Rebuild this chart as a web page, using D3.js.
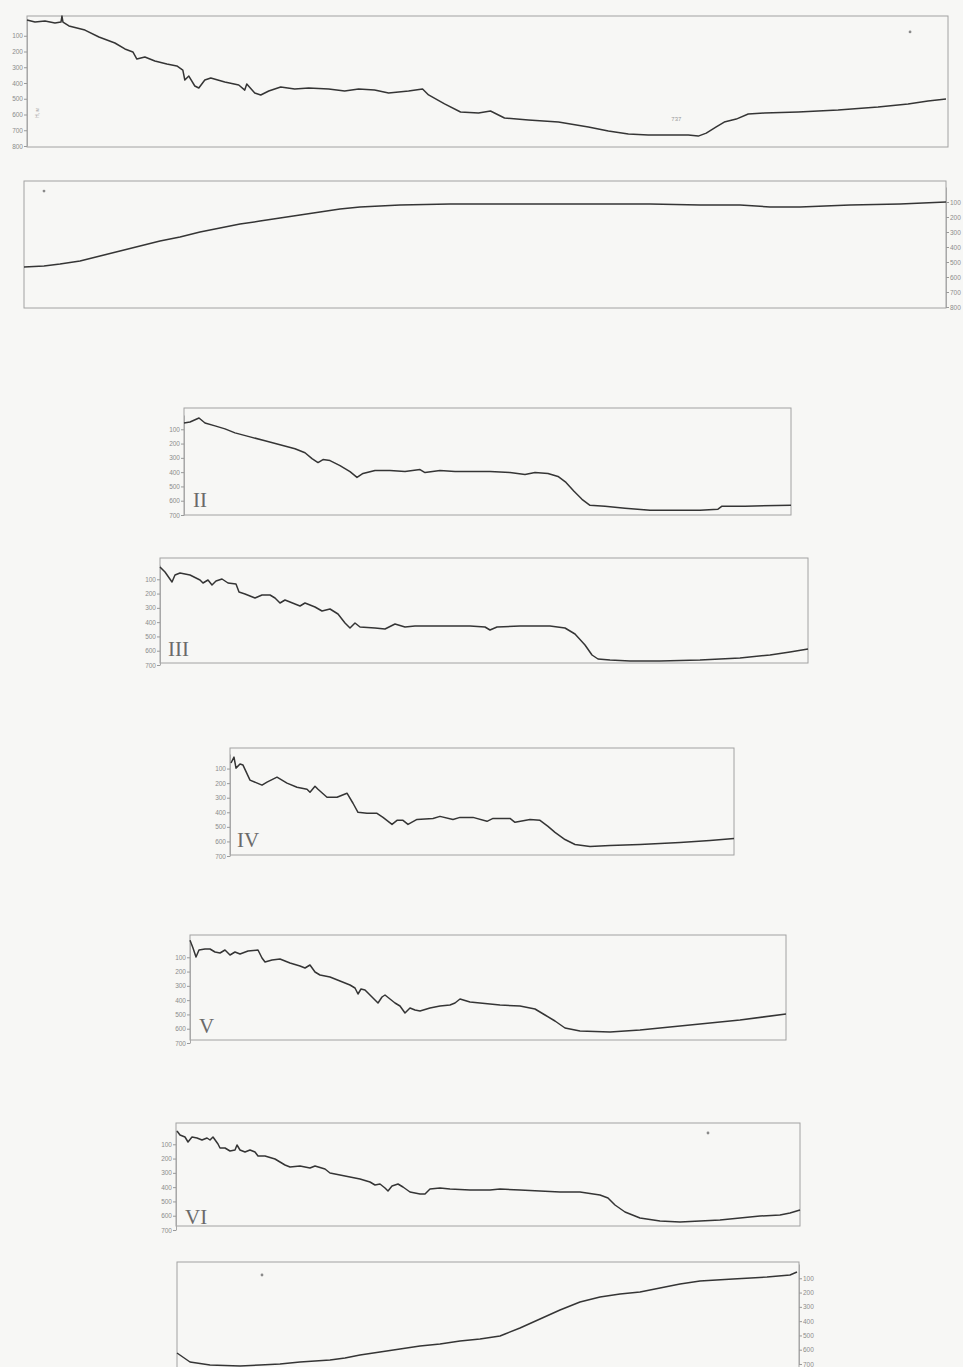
<!DOCTYPE html>
<html>
<head>
<meta charset="utf-8">
<script src="https://cdn.jsdelivr.net/npm/d3@7"></script>
<style>
  body { margin: 0; background: #f7f7f5; }
  svg { display: block; background: #f7f7f5; }
  .frame { fill: none; stroke: #a2a2a2; stroke-width: 1; }
  .profile { fill: none; stroke: #353535; stroke-width: 1.5; stroke-linejoin: round; }
  .axis .tick text { font-family: "Liberation Sans", sans-serif; font-size: 6.5px; fill: #8c8c8c; }
  .axis .tick line { stroke: #9a9a9a; }
  .axis .domain { stroke: #a8a8a8; }
  .numeral { font-family: "Liberation Serif", serif; font-size: 21px; fill: #6a6a6a; }
  .note { font-family: "Liberation Sans", sans-serif; font-size: 6px; fill: #9a9a9a; }
</style>
</head>
<body>
<svg width="963" height="1367"></svg>
<script>
// profiles: [distance, depth]
var profile1 = [[0,0],[4,13],[9,6],[14,19],[17,13],[17.5,-25],[18,13],[21,38],[29,64],[36,108],[44,146],[49,184],[53,203],[55,248],[59,235],[64,260],[70,279],[75,292],[78,318],[79,381],[81,356],[84,419],[86,432],[89,381],[92,368],[99,394],[106,413],[109,445],[110,406],[114,464],[117,476],[121,451],[127,425],[134,438],[141,432],[151,438],[159,451],[166,438],[174,445],[181,464],[191,451],[198,438],[201,476],[209,533],[217,584],[226,591],[232,578],[239,622],[251,635],[266,648],[281,679],[291,705],[301,724],[311,730],[321,730],[331,730],[336,737],[340,718],[345,679],[349,648],[355,629],[361,597],[369,591],[386,584],[406,572],[426,553],[441,533],[451,514],[460,502]];

var profile2 = [[0,534],[10,527],[18,514],[28,494],[38,460],[48,427],[58,394],[68,360],[78,334],[88,300],[98,274],[108,247],[118,227],[128,207],[138,187],[148,167],[158,147],[168,133],[188,120],[213,113],[238,113],[263,113],[288,113],[313,113],[338,120],[358,120],[373,133],[388,133],[413,120],[438,113],[461,100]];

var profileII = [[0,56],[3,49],[7.5,21],[10.5,56],[15.5,76],[20.5,97],[25.5,125],[33,153],[40.5,180],[48,208],[55.5,236],[60.5,264],[64,305],[67,333],[69.5,312],[73,319],[78,354],[83,396],[86.5,437],[89.5,409],[95.5,389],[103,389],[110.5,396],[118,382],[120.5,403],[128,389],[135.5,396],[143,396],[153,396],[163,403],[170.5,416],[175.5,403],[182,409],[187,430],[191,472],[195,534],[199,590],[203,632],[210.5,638],[220.5,652],[233,666],[248,666],[258,666],[267,659],[269,638],[280.5,638],[303.5,632]];

var profileIII = [[0,14],[2.5,49],[6,119],[7.5,70],[10,56],[15,70],[20,105],[21.5,126],[24,105],[26,140],[28,112],[31,98],[34,126],[38,133],[39.5,189],[42.5,203],[47.5,231],[51,210],[55,210],[57.5,231],[60,266],[62.5,245],[65,259],[70,287],[72.5,266],[77.5,294],[81,322],[85,308],[89,343],[92.5,406],[95,441],[97.5,406],[100,434],[107.5,441],[112.5,448],[117.5,413],[122.5,434],[127.5,427],[135,427],[145,427],[155,427],[162.5,434],[165,455],[168.5,434],[180,427],[195,427],[202.5,441],[207.5,483],[212.5,560],[216,630],[219,658],[225,665],[235,672],[250,672],[270,665],[290,651],[305,630],[315,609],[324,588]];

var profileIV = [[0.5,62],[2,21],[3,97],[5,69],[6.5,76],[10,179],[16,214],[18.5,193],[23.5,159],[28.5,200],[33.5,228],[38.5,242],[40,262],[42.5,221],[44,242],[48.5,297],[53.5,297],[58.5,269],[61.5,338],[64,400],[68.5,407],[73.5,407],[76.5,435],[81,483],[83.5,455],[86.5,455],[89,483],[93.5,449],[101.5,442],[105,428],[111.5,449],[115,435],[121.5,435],[128.5,462],[131.5,442],[140,442],[142.5,469],[150,449],[155,455],[159,497],[162.5,538],[167.5,587],[172.5,621],[180,635],[190,628],[205,621],[225,607],[240,593],[252,580]];

var profileV = [[0,-20],[1.5,35],[3,98],[4.5,49],[7.5,42],[10,42],[12.5,63],[15,70],[17.5,49],[20,84],[22.5,63],[25,77],[29,56],[34,49],[36,105],[37.5,133],[41,119],[45,112],[50,140],[55,161],[57.5,175],[60,154],[62.5,203],[65,224],[70,238],[75,266],[80,294],[82.5,315],[84,357],[85.5,322],[87.5,329],[90,364],[92.5,399],[94,420],[96,378],[97.5,364],[100,392],[102.5,420],[105,441],[107.5,490],[110,455],[112.5,469],[115,476],[120,455],[125,441],[130,434],[132.5,420],[135,392],[140,413],[145,420],[155,434],[165,441],[172.5,462],[177.5,504],[182.5,546],[187.5,595],[195,616],[210,623],[225,609],[240,588],[255,567],[275,539],[298,497]];

var profileVI = [[0.5,7],[2,35],[4.5,49],[6,84],[8,49],[10.5,56],[13,70],[15.5,56],[17,70],[18.5,49],[21,98],[22,126],[24.5,126],[27,147],[29.5,140],[30.5,105],[32,140],[34.5,154],[37,140],[39.5,154],[41,182],[44.5,182],[49.5,203],[52,224],[54.5,245],[57,259],[62,252],[67,266],[69.5,252],[74.5,273],[77,301],[82,315],[87,329],[92,343],[97,364],[99.5,385],[102,378],[104.5,406],[106,427],[108,392],[111,378],[113.5,399],[117,434],[122,448],[124.5,448],[127,413],[132,406],[137,413],[147,420],[157,420],[162,413],[172,420],[182,427],[192,434],[202,434],[212,455],[216,476],[219.5,525],[224.5,574],[232,616],[242,637],[252,644],[262,637],[272,630],[282,616],[292,602],[302,595],[307,581],[312,560]];

var profile8 = [[0,623],[6.5,686],[16.5,707],[31.5,714],[41.5,707],[51.5,700],[61.5,686],[76.5,672],[84,658],[91.5,637],[101.5,616],[111.5,595],[121.5,574],[131.5,560],[141.5,539],[151.5,525],[161.5,504],[164,490],[171.5,448],[181.5,385],[191.5,322],[201.5,266],[211.5,231],[221.5,210],[231.5,196],[241.5,168],[251.5,140],[261.5,119],[278,105],[295,91],[306.5,77],[310,56]];

var ticks800 = [100, 200, 300, 400, 500, 600, 700, 800];
var ticks700 = [100, 200, 300, 400, 500, 600, 700];

// roman labels and small marks
var numerals = ["II", "III", "IV", "V", "VI"];

var panels = [
  {data: profile1, len: 461, left: 27, right: 948, top: 16, bottom: 147, y0: 20, y1: 146, max: 800, ticks: ticks800, side: "left", star: [442, 76], note: [322.5, 641, "737"]},
  {data: profile2, len: 461, left: 24, right: 946, top: 181, bottom: 308, y0: 187, y1: 307, max: 800, ticks: ticks800, side: "right", star: [10, 27]},
  {data: profileII, len: 303.5, left: 184, right: 791, top: 408, bottom: 515, y0: 415, y1: 515, max: 700, ticks: ticks700, side: "left", label: numerals[0], lx: 193, ly: 507},
  {data: profileIII, len: 324, left: 160, right: 808, top: 558, bottom: 663, y0: 565, y1: 665, max: 700, ticks: ticks700, side: "left", label: numerals[1], lx: 168, ly: 656},
  {data: profileIV, len: 252, left: 230, right: 734, top: 748, bottom: 855, y0: 754, y1: 856, max: 700, ticks: ticks700, side: "left", label: numerals[2], lx: 237, ly: 847},
  {data: profileV, len: 298, left: 190, right: 786, top: 935, bottom: 1040, y0: 943, y1: 1043, max: 700, ticks: ticks700, side: "left", label: numerals[3], lx: 199, ly: 1033},
  {data: profileVI, len: 312, left: 176, right: 800, top: 1123, bottom: 1226, y0: 1130, y1: 1230, max: 700, ticks: ticks700, side: "left", label: numerals[4], lx: 185, ly: 1224, star: [266, 21]},
  {data: profile8, len: 311, left: 177, right: 799, top: 1262, bottom: 1380, y0: 1264, y1: 1364, max: 700, ticks: ticks700, side: "right", star: [42.5, 77]}
];

var svg = d3.select("svg");

panels.forEach(function(p) {
  var g = svg.append("g");

  var x = d3.scaleLinear()
    .domain([0, p.len])
    .range([p.left, p.right]);

  var y = d3.scaleLinear()
    .domain([0, p.max])
    .range([p.y0, p.y1]);

  g.append("rect")
    .attr("class", "frame")
    .attr("x", p.left)
    .attr("y", p.top)
    .attr("width", p.right - p.left)
    .attr("height", p.bottom - p.top);

  var axis = p.side == "left" ? d3.axisLeft(y) : d3.axisRight(y);
  g.append("g")
    .attr("class", "axis")
    .attr("transform", "translate(" + (p.side == "left" ? p.left : p.right) + ",0)")
    .call(axis.tickValues(p.ticks).tickSize(3).tickSizeOuter(0).tickPadding(1));

  var line = d3.line()
    .x(function(d) { return x(d[0]); })
    .y(function(d) { return y(d[1]); });

  g.append("path")
    .datum(p.data)
    .attr("class", "profile")
    .attr("d", line);

  if (p.label) {
    g.append("text")
      .attr("class", "numeral")
      .attr("x", p.lx)
      .attr("y", p.ly)
      .text(p.label);
  }

  if (p.star) {
    g.append("circle")
      .attr("cx", x(p.star[0]))
      .attr("cy", y(p.star[1]))
      .attr("r", 1.4)
      .style("fill", "#8a8a8a");
  }

  if (p.note) {
    g.append("text")
      .attr("class", "note")
      .attr("x", x(p.note[0]))
      .attr("y", y(p.note[1]))
      .text(p.note[2]);
  }
});

// small rotated unit mark on the first panel
svg.append("text")
  .attr("class", "note")
  .attr("transform", "translate(39,118) rotate(-90)")
  .style("font-size", "5px")
  .text("H, м");
</script>
</body>
</html>
